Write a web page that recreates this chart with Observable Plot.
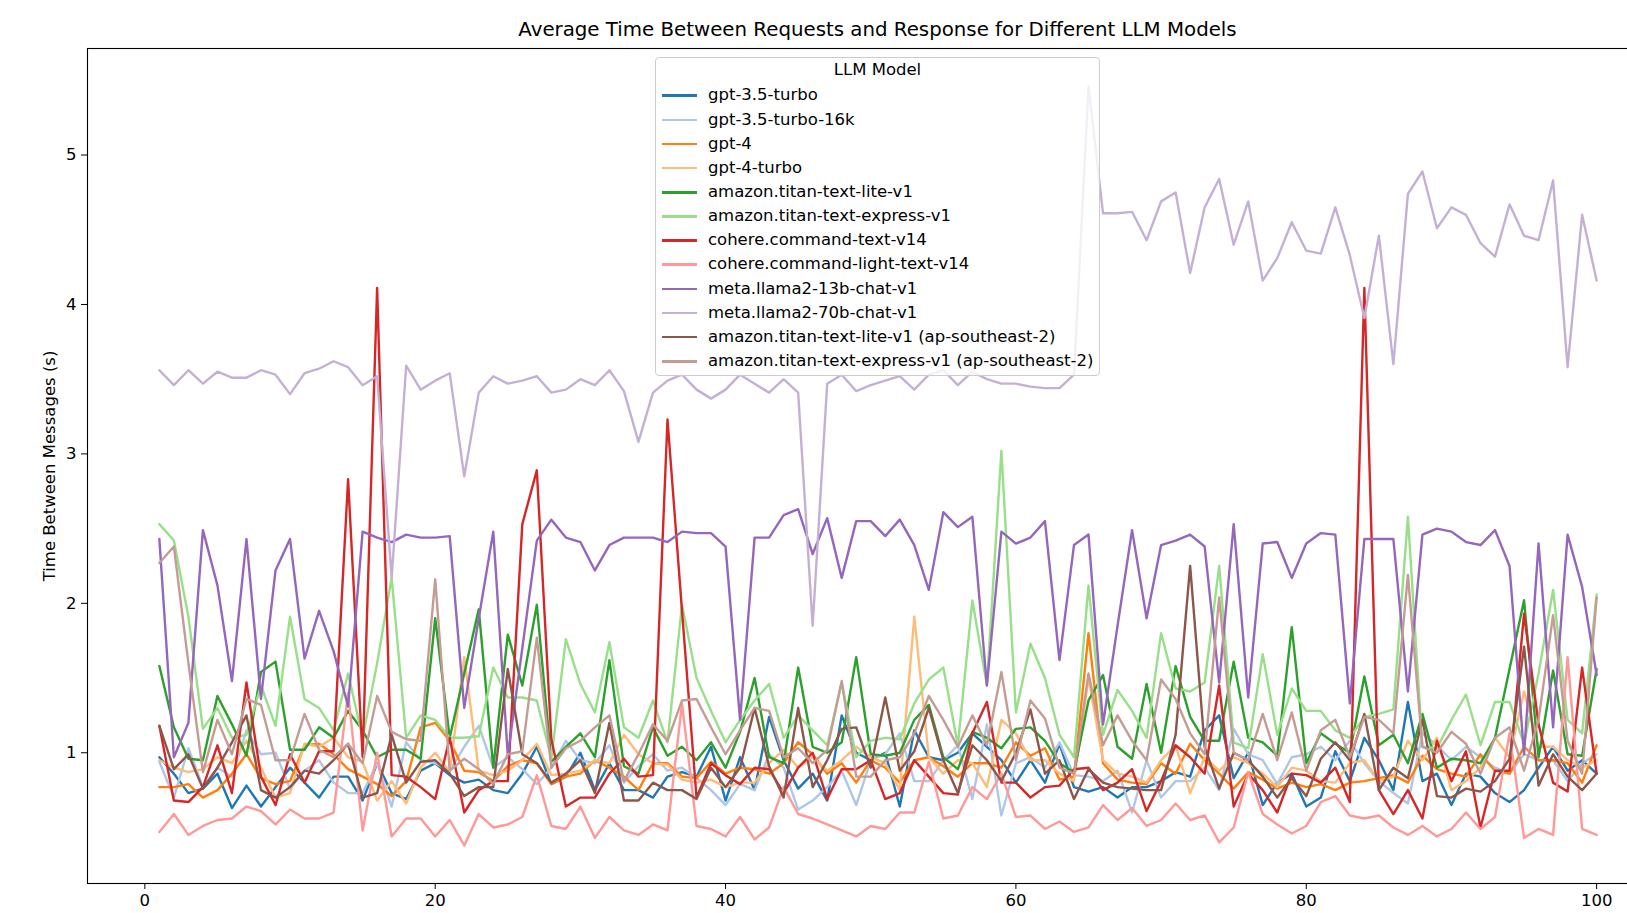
<!DOCTYPE html>
<html><head><meta charset="utf-8">
<script src="https://cdn.jsdelivr.net/npm/d3@7"></script>
<script src="https://cdn.jsdelivr.net/npm/@observablehq/plot@0.6"></script>
<style>
html,body{margin:0;padding:0;overflow:hidden;background:#fff;}
#wrap{position:relative;width:1627px;height:913px;overflow:hidden;}
#title{position:absolute;left:87px;width:1581px;top:18px;text-align:center;font-family:"DejaVu Sans";font-size:19.8px;color:#000;white-space:nowrap;}
#legend{position:absolute;left:655px;top:57px;width:445px;height:319px;box-sizing:border-box;border:1px solid #cccccc;border-radius:4px;background:rgba(255,255,255,0.8);font-family:"DejaVu Sans";font-size:16.5px;color:#000;}
#legend .row{position:absolute;left:0;height:20px;line-height:20px;white-space:nowrap;}
#legend .sw{position:absolute;left:6px;width:35px;height:2.5px;top:9px;}
#legend .lab{position:absolute;left:52px;top:0;}
#legend .ttl{position:absolute;left:0;width:100%;text-align:center;top:2px;height:20px;line-height:20px;}
#chart{position:absolute;left:0;top:0;width:1700px;}
#chart svg{max-width:none !important;width:1700px;height:913px;}
</style></head>
<body>
<div id="wrap"><div id="chart"></div><div id="title"></div><div id="legend"></div></div>
<script>
const titleText = "Average Time Between Requests and Response for Different LLM Models";
const yLabel = "Time Between Messages (s)";
const legendTitle = "LLM Model";
const xTicks = [0, 20, 40, 60, 80, 100];
const yTicks = [1, 2, 3, 4, 5];
const models = ["gpt-3.5-turbo","gpt-3.5-turbo-16k","gpt-4","gpt-4-turbo","amazon.titan-text-lite-v1","amazon.titan-text-express-v1","cohere.command-text-v14","cohere.command-light-text-v14","meta.llama2-13b-chat-v1","meta.llama2-70b-chat-v1","amazon.titan-text-lite-v1 (ap-southeast-2)","amazon.titan-text-express-v1 (ap-southeast-2)"];
const colors = ["#1f77b4","#aec7e8","#ff7f0e","#ffbb78","#2ca02c","#98df8a","#d62728","#ff9896","#9467bd","#c5b0d5","#8c564b","#c49c94"];

const gpt35 = [0.97,0.86,0.73,0.76,0.86,0.63,0.78,0.64,0.77,0.90,
0.80,0.70,0.84,0.84,0.68,0.93,0.73,0.69,0.88,0.93,
0.85,0.80,0.82,0.75,0.73,0.86,1.04,0.79,0.84,1.00,
0.75,0.93,0.75,0.75,0.70,0.84,0.87,0.84,1.04,0.68,
0.97,0.75,1.24,0.95,0.76,0.86,0.68,1.25,1.00,0.95,
1.00,0.64,1.15,0.97,0.95,1.00,1.13,1.04,0.95,0.80,
0.95,0.80,1.06,0.77,0.74,0.77,0.70,0.77,0.77,0.81,
0.87,0.84,1.15,1.25,0.83,1.00,0.65,0.80,0.86,0.64,
0.70,1.01,0.81,1.10,0.95,0.75,1.34,0.81,0.86,0.65,
0.86,0.84,0.73,0.67,0.75,0.90,1.04,0.88,0.95,0.86];
const gpt35_16k = [0.94,0.70,1.03,0.77,0.90,0.84,1.15,0.99,1.00,0.76,
0.88,0.95,0.80,0.73,0.73,0.93,0.64,1.07,0.95,0.93,
0.88,1.04,1.18,0.90,0.97,0.89,0.79,0.90,1.08,0.95,
0.93,1.05,0.80,0.91,0.99,0.88,0.90,0.83,0.75,0.65,
0.79,0.75,0.99,0.90,0.62,0.68,0.77,0.88,0.65,0.95,
0.99,1.13,0.81,0.81,0.95,1.05,0.69,1.19,0.58,0.93,
0.97,0.90,1.07,0.85,0.84,0.81,0.88,0.60,0.95,0.70,
0.81,0.81,0.90,0.75,1.16,0.99,0.95,0.79,0.97,0.99,
1.04,0.95,1.08,0.93,0.81,0.73,0.66,1.13,1.05,0.95,
1.04,0.97,0.90,0.86,0.99,0.95,0.95,0.81,0.93,0.99];
const gpt4 = [0.77,0.77,0.79,0.70,0.75,0.86,0.99,0.83,0.79,0.81,
1.05,1.06,0.99,0.89,0.84,0.79,0.71,0.81,1.17,1.20,
1.08,0.88,0.87,0.81,0.91,0.95,0.93,0.79,0.84,0.86,
0.95,0.90,0.84,0.75,0.93,0.93,0.84,0.83,0.94,0.86,
0.90,0.89,0.86,0.93,1.07,0.99,0.86,0.93,0.80,0.95,
0.90,0.80,0.95,0.97,0.91,0.84,0.93,0.93,0.90,1.07,
0.98,1.03,0.82,0.84,1.80,0.93,0.82,0.80,0.79,0.93,
0.86,1.06,0.95,0.86,0.76,0.87,0.82,0.76,0.80,0.77,
0.79,0.75,0.80,0.81,0.83,0.85,0.80,0.98,0.89,0.86,
0.84,0.99,0.88,0.86,1.04,0.95,0.95,0.93,0.80,1.05];
const gpt4turbo = [0.95,0.90,0.87,0.89,0.97,0.93,1.08,0.90,0.70,0.73,
1.06,1.04,1.10,0.97,0.94,0.68,0.81,0.66,0.90,1.00,
0.87,1.64,0.88,0.85,0.88,0.95,1.06,0.85,0.86,0.88,
0.95,0.93,1.12,0.99,0.93,0.92,0.82,0.80,0.82,0.77,
0.80,0.80,0.93,1.02,0.90,0.97,0.88,0.95,1.04,0.97,
0.93,0.75,1.91,0.97,0.86,0.95,0.93,0.77,1.22,1.13,
0.95,0.95,0.86,0.81,1.50,0.95,0.86,0.84,0.80,0.95,
1.05,0.73,0.97,0.88,0.97,0.93,0.86,0.77,0.90,0.88,
0.81,0.80,0.93,0.95,0.81,0.84,1.08,0.95,1.10,0.75,
0.81,0.90,1.10,0.97,1.41,1.04,1.04,0.95,0.90,0.95];
const titanLite = [1.58,1.17,0.96,0.95,1.38,1.19,0.98,1.54,1.61,1.02,
1.02,1.17,1.10,1.28,1.15,0.97,1.02,1.02,0.96,1.90,
1.10,1.53,1.96,0.90,1.79,1.45,1.99,0.94,1.04,1.13,
0.97,1.62,0.91,0.86,1.17,0.98,1.04,0.95,1.07,0.90,
1.14,1.50,0.97,0.93,1.57,1.04,1.00,1.07,1.64,0.99,
0.98,1.00,1.22,1.32,0.97,0.89,1.14,1.10,1.03,1.16,
1.17,1.08,0.93,0.87,1.35,1.52,1.04,0.96,1.46,1.00,
1.58,1.24,1.08,1.08,1.61,1.10,1.07,0.98,1.84,0.93,
1.13,1.06,1.00,1.51,1.05,1.12,0.93,1.26,0.90,0.96,
0.95,0.93,1.10,1.56,2.02,0.97,1.55,0.99,0.98,1.56];
const titanExpress = [2.53,2.42,1.91,1.16,1.30,1.10,1.12,1.45,1.18,1.91,
1.36,1.30,1.15,1.53,1.10,1.60,2.17,1.10,1.25,1.22,
1.10,1.10,1.11,1.57,1.37,1.37,1.35,0.96,1.76,1.46,
1.27,1.74,1.17,1.10,1.35,1.07,1.99,1.50,1.28,1.07,
1.22,1.35,1.46,1.10,1.25,1.15,1.05,1.47,0.97,1.08,
1.10,1.09,1.33,1.49,1.57,1.05,2.02,1.45,3.02,1.27,
1.73,1.50,1.12,0.97,2.12,1.12,1.42,1.28,1.10,1.80,
1.43,1.41,1.47,2.25,1.07,1.03,1.66,1.12,1.43,1.28,
1.28,1.15,1.10,1.24,1.26,1.29,2.58,1.04,1.03,1.22,
1.39,1.05,1.34,1.34,1.06,1.53,2.09,1.22,1.13,2.06];
const cohereCommand = [1.18,0.68,0.67,0.77,1.05,0.73,1.47,0.84,0.65,0.99,
0.80,1.01,1.01,2.83,0.97,4.11,0.85,0.84,0.77,0.69,
1.10,0.60,0.75,0.81,0.81,2.53,2.89,1.09,0.64,0.70,
0.70,0.86,0.96,0.84,0.85,3.23,1.95,0.70,0.93,0.85,
0.79,0.90,0.89,0.73,0.90,1.00,0.69,0.89,0.89,0.95,
0.69,0.73,0.95,0.84,0.73,0.72,1.13,1.34,0.80,0.80,
0.70,0.77,0.78,0.89,0.90,0.75,0.80,0.89,0.61,0.81,
1.05,0.97,0.86,1.45,0.64,0.86,0.75,0.60,0.86,0.85,
0.80,0.90,0.67,4.11,0.75,0.59,0.75,0.56,1.08,0.81,
1.01,0.50,0.88,0.88,1.93,1.19,0.80,0.74,1.57,0.86];
const cohereLight = [0.47,0.59,0.45,0.51,0.55,0.56,0.64,0.61,0.52,0.62,
0.56,0.56,0.60,1.40,0.48,1.00,0.44,0.56,0.56,0.44,
0.55,0.38,0.59,0.50,0.52,0.57,0.85,0.51,0.49,0.64,
0.43,0.57,0.48,0.45,0.52,0.48,1.33,0.51,0.49,0.44,
0.57,0.42,0.50,0.77,0.59,0.56,0.52,0.48,0.44,0.51,
0.49,0.60,0.60,0.94,0.56,0.58,0.77,0.69,0.86,0.57,
0.58,0.49,0.54,0.47,0.50,0.65,0.55,0.63,0.51,0.55,
0.66,0.55,0.58,0.40,0.50,0.87,0.59,0.52,0.46,0.51,
0.67,0.71,0.58,0.56,0.58,0.50,0.45,0.51,0.44,0.49,
0.60,0.49,0.57,1.13,0.43,0.49,0.45,1.64,0.49,0.45];
const llama13 = [2.43,0.97,1.20,2.49,2.12,1.48,2.43,1.36,2.22,2.43,
1.63,1.95,1.68,1.31,2.48,2.44,2.41,2.46,2.44,2.44,
2.45,1.30,1.90,2.48,0.98,1.70,2.42,2.56,2.44,2.41,
2.22,2.39,2.44,2.44,2.44,2.41,2.48,2.47,2.47,2.38,
1.22,2.44,2.44,2.59,2.63,2.33,2.57,2.17,2.55,2.55,
2.45,2.56,2.39,2.09,2.61,2.51,2.58,1.45,2.48,2.40,
2.44,2.55,1.62,2.39,2.46,1.19,1.85,2.49,1.90,2.39,
2.42,2.46,2.38,1.47,2.53,1.37,2.40,2.41,2.17,2.40,
2.47,2.46,1.33,2.43,2.43,2.43,1.41,2.46,2.50,2.48,
2.41,2.39,2.49,2.25,0.99,2.40,1.17,2.46,2.11,1.52];
const llama70 = [3.56,3.46,3.56,3.47,3.55,3.51,3.51,3.56,3.53,3.40,
3.54,3.57,3.62,3.58,3.46,3.52,2.17,3.59,3.43,3.49,
3.54,2.85,3.41,3.52,3.47,3.49,3.52,3.41,3.43,3.50,
3.46,3.56,3.42,3.08,3.41,3.49,3.53,3.43,3.37,3.43,
3.53,3.47,3.41,3.50,3.41,1.85,3.47,3.53,3.42,3.46,
3.49,3.52,3.43,3.53,3.56,3.46,3.55,3.50,3.47,3.47,
3.45,3.44,3.44,3.53,5.46,4.61,4.61,4.62,4.43,4.69,
4.75,4.21,4.65,4.84,4.40,4.69,4.16,4.31,4.55,4.36,
4.34,4.65,4.33,3.91,4.46,3.60,4.74,4.89,4.51,4.65,
4.60,4.41,4.32,4.67,4.46,4.43,4.83,3.58,4.60,4.16];
const titanLiteAp = [1.18,0.89,0.99,0.76,0.90,1.07,1.25,0.75,0.70,0.77,
0.88,0.86,0.95,1.06,0.70,0.73,1.12,0.80,0.94,0.95,
0.86,0.71,0.77,0.77,1.56,0.99,0.93,0.80,0.86,0.95,
0.73,1.20,0.68,0.68,0.80,0.75,0.75,0.69,0.90,0.77,
0.90,1.30,0.91,0.70,1.30,0.77,0.95,1.16,1.17,0.90,
1.37,0.88,1.01,1.30,0.95,0.73,1.05,0.95,0.81,1.00,
1.29,0.86,0.95,0.69,0.89,0.80,0.77,0.76,0.75,0.75,
1.12,2.25,1.04,0.76,1.00,0.95,0.84,0.70,0.83,0.71,
0.96,1.07,0.95,1.26,0.75,0.90,0.83,1.22,0.71,0.70,
0.76,0.74,0.81,0.96,1.71,0.78,0.99,0.84,0.75,0.86];
const titanExpressAp = [2.27,2.38,1.60,0.87,1.22,0.99,1.36,1.32,0.95,0.95,
1.26,1.02,0.97,1.06,0.93,1.38,1.14,1.09,1.08,2.16,
0.88,0.96,0.89,0.79,0.99,1.01,1.77,0.90,1.03,1.08,
1.17,1.25,0.81,0.99,1.19,1.08,1.35,1.36,1.17,0.99,
1.15,1.30,1.28,0.97,1.03,0.93,1.02,1.48,0.84,0.84,
0.95,0.97,1.13,1.38,1.22,1.04,1.25,1.05,1.54,0.95,
1.35,1.23,0.90,0.86,1.53,1.05,1.25,1.08,0.95,1.49,
1.36,1.13,0.99,2.04,1.00,0.95,1.26,0.95,1.27,0.88,
1.15,1.22,0.97,1.24,1.22,1.13,2.19,1.04,1.00,1.14,
1.06,0.86,1.10,1.17,0.88,1.22,1.92,1.08,0.86,2.04];

const seriesValues = [gpt35, gpt35_16k, gpt4, gpt4turbo, titanLite, titanExpress, cohereCommand, cohereLight, llama13, llama70, titanLiteAp, titanExpressAp];

const data = [];
seriesValues.forEach((vals, k) => vals.forEach((v, i) => data.push({request: i + 1, time: v, model: models[k]})));

const chart = Plot.plot({
  width: 1700, height: 913,
  marginLeft: 87, marginRight: 32, marginTop: 48, marginBottom: 30,
  x: {domain: [-3.95, 104.95]},
  y: {domain: [0.125, 5.713]},
  color: {domain: models, range: colors},
  style: {fontFamily: "DejaVu Sans", fontSize: "16.5px", color: "#000", background: "#fff", overflow: "visible"},
  marks: [
    Plot.axisX({ticks: xTicks, tickSize: 6, tickPadding: 5, tickFormat: d => String(d), label: null, stroke: "#000"}),
    Plot.axisY({ticks: yTicks, tickSize: 6, tickPadding: 5, tickFormat: d => String(d), label: null, stroke: "#000"}),
    Plot.line(data, {x: "request", y: "time", z: "model", stroke: "model", strokeWidth: 2.4, strokeLinejoin: "round"}),
    Plot.frame({stroke: "#000", strokeWidth: 1.1}),
    Plot.text([yLabel], {frameAnchor: "left", textAnchor: "middle", dx: -38, rotate: -90, fontSize: 16.5, fill: "#000"})
  ]
});
document.getElementById("chart").appendChild(chart);

document.getElementById("title").textContent = titleText;

const lg = document.getElementById("legend");
const t = document.createElement("div");
t.className = "ttl"; t.textContent = legendTitle; lg.appendChild(t);
models.forEach((m, k) => {
  const row = document.createElement("div");
  row.className = "row";
  row.style.top = (37.4 + k * 24.15 - 10) + "px";
  const sw = document.createElement("div");
  sw.className = "sw"; sw.style.background = colors[k];
  const lab = document.createElement("span");
  lab.className = "lab"; lab.textContent = m;
  row.appendChild(sw); row.appendChild(lab);
  lg.appendChild(row);
});
</script>
</body></html>
